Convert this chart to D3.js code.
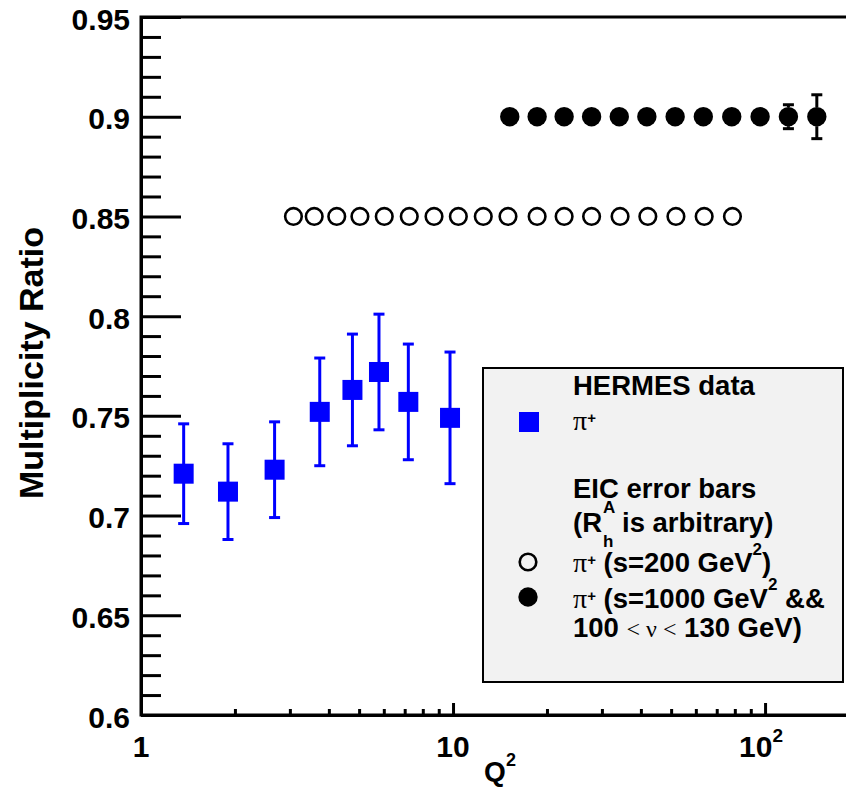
<!DOCTYPE html>
<html>
<head>
<meta charset="utf-8">
<script src="https://cdn.jsdelivr.net/npm/d3@7"></script>
<style>
  body { margin: 0; background: #fff; }
  svg text { font-family: "Liberation Sans", Arial, Helvetica, sans-serif; font-weight: bold; }
  svg .serif { font-family: "Liberation Serif", "DejaVu Serif", serif; font-weight: normal; }
</style>
</head>
<body>
<div id="chart"></div>
<script>
// HERMES pi+ multiplicity ratio vs Q^2
const hermesQ2  = [1.37, 1.90, 2.68, 3.74, 4.76, 5.79, 7.19, 9.78]
const hermesR   = [0.721, 0.712, 0.723, 0.752, 0.763, 0.772, 0.757, 0.749]
const hermesErr = [0.025, 0.024, 0.024, 0.027, 0.028, 0.029, 0.029, 0.033]

// EIC projection, s = 200 GeV^2 (open circles)
const eic200Q2  = [3.08, 3.59, 4.24, 5.03, 6.02, 7.24, 8.69, 10.4, 12.5, 15.0, 18.6, 22.7, 27.8, 34.3, 42.1, 51.8, 63.8, 78.6]
const eic200R   = [0.85, 0.85, 0.85, 0.85, 0.85, 0.85, 0.85, 0.85, 0.85, 0.85, 0.85, 0.85, 0.85, 0.85, 0.85, 0.85, 0.85, 0.85]
const eic200Err = [0.002, 0.002, 0.002, 0.002, 0.002, 0.002, 0.002, 0.002, 0.002, 0.002, 0.002, 0.002, 0.002, 0.002, 0.003, 0.003, 0.003, 0.003]

// EIC projection, s = 1000 GeV^2 && 100 < nu < 130 GeV (filled circles)
const eic1000Q2  = [15.2, 18.6, 22.7, 27.8, 34.1, 41.8, 51.5, 63.4, 78.2, 96.4, 118.8, 146.5]
const eic1000R   = [0.9, 0.9, 0.9, 0.9, 0.9, 0.9, 0.9, 0.9, 0.9, 0.9, 0.9, 0.9]
const eic1000Err = [0.002, 0.002, 0.002, 0.002, 0.002, 0.002, 0.002, 0.003, 0.003, 0.004, 0.006, 0.011]

// axis ticks
const yMajor = [0.6, 0.65, 0.7, 0.75, 0.8, 0.85, 0.9, 0.95]
const yTickLabels = ["0.6", "0.65", "0.7", "0.75", "0.8", "0.85", "0.9", "0.95"]
const xMajor = [1, 10, 100]
const xTickLabels = [["1", ""], ["10", ""], ["10", "2"]]

const width = 846
const height = 787

var svg = d3.select("#chart")
  .append("svg")
    .attr("width", width)
    .attr("height", height)

svg.append("rect").attr("width", width).attr("height", height).attr("fill", "#fff")

// scales (frame runs off the right edge, like the original canvas)
var x = d3.scaleLog().domain([1, 200]).range([141, 859])
var y = d3.scaleLinear().domain([0.6, 0.95]).range([715, 17])

// frame
svg.append("rect")
  .attr("x", x(1)).attr("y", y(0.95))
  .attr("width", x(200) - x(1)).attr("height", y(0.6) - y(0.95))
  .attr("fill", "none").attr("stroke", "#000").attr("stroke-width", 3)

// Y axis, ticks pointing inside
var yMinor = y.ticks(35).filter(function (d) { return yMajor.every(function (m) { return Math.abs(m - d) > 1e-6 }) })

svg.append("g")
  .attr("transform", "translate(" + x(1) + ",0)")
  .call(d3.axisLeft(y).tickValues(yMinor).tickSize(-20).tickSizeOuter(0).tickFormat(""))

var yAx = svg.append("g")
  .attr("transform", "translate(" + x(1) + ",0)")
  .call(d3.axisLeft(y).tickValues(yMajor).tickSize(-40).tickPadding(11).tickSizeOuter(0)
    .tickFormat(function (d, i) { return yTickLabels[i] }))

yAx.selectAll(".tick text")
  .attr("dy", null).attr("y", 12).attr("fill", "#000")
  .style("font-size", "30px")

// X axis
var xMinor = x.ticks().filter(function (d) { return xMajor.indexOf(d) < 0 })

svg.append("g")
  .attr("transform", "translate(0," + y(0.6) + ")")
  .call(d3.axisBottom(x).tickValues(xMinor).tickSize(-6).tickSizeOuter(0).tickFormat(""))

svg.append("g")
  .attr("transform", "translate(0," + y(0.6) + ")")
  .call(d3.axisBottom(x).tickValues(xMajor).tickSize(-12).tickSizeOuter(0).tickFormat(""))

svg.selectAll(".domain, .tick line").attr("stroke", "#000").attr("stroke-width", 3)

// x tick labels (10^2 with superscript)
xMajor.forEach(function (d, i) {
  var t = svg.append("text")
    .attr("x", x(d) - (xTickLabels[i][1] ? 4 : 0))
    .attr("y", 757)
    .attr("text-anchor", "middle")
    .style("font-size", "30px")
  t.append("tspan").text(xTickLabels[i][0])
  if (xTickLabels[i][1]) {
    t.append("tspan").attr("dy", -15).style("font-size", "19px").text(xTickLabels[i][1])
  }
})

// axis titles
var xt = svg.append("text")
  .attr("x", 500).attr("y", 781)
  .attr("text-anchor", "middle")
  .style("font-size", "28px")
xt.append("tspan").text("Q")
xt.append("tspan").attr("dy", -15).style("font-size", "18px").text("2")

svg.append("text")
  .attr("transform", "translate(43,363) rotate(-90)")
  .attr("text-anchor", "middle")
  .style("font-size", "34px")
  .text("Multiplicity Ratio")

// error bars drawn only outside the marker
function errorBars(g, qs, vs, es, r, color, capW) {
  qs.forEach(function (q, i) {
    var cx = x(q), cy = y(vs[i])
    var top = y(vs[i] + es[i]), bot = y(vs[i] - es[i])
    if (cy - top <= r) return
    g.append("line").attr("x1", cx).attr("x2", cx).attr("y1", top).attr("y2", cy - r)
    g.append("line").attr("x1", cx).attr("x2", cx).attr("y1", cy + r).attr("y2", bot)
    g.append("line").attr("x1", cx - capW / 2).attr("x2", cx + capW / 2).attr("y1", top).attr("y2", top)
    g.append("line").attr("x1", cx - capW / 2).attr("x2", cx + capW / 2).attr("y1", bot).attr("y2", bot)
  })
  g.attr("stroke", color).attr("stroke-width", 3)
}

// HERMES data
errorBars(svg.append("g"), hermesQ2, hermesR, hermesErr, 0, "#0000ff", 11)
svg.append("g").selectAll("rect")
  .data(hermesQ2)
  .enter().append("rect")
  .attr("x", function (d) { return x(d) - 10 })
  .attr("y", function (d, i) { return y(hermesR[i]) - 10 })
  .attr("width", 20).attr("height", 20)
  .attr("fill", "#0000ff")

// EIC s=200
errorBars(svg.append("g"), eic200Q2, eic200R, eic200Err, 9.5, "#000", 11)
svg.append("g").selectAll("circle")
  .data(eic200Q2)
  .enter().append("circle")
  .attr("cx", function (d) { return x(d) })
  .attr("cy", function (d, i) { return y(eic200R[i]) })
  .attr("r", 8.3)
  .attr("fill", "none").attr("stroke", "#000").attr("stroke-width", 2.6)

// EIC s=1000
errorBars(svg.append("g"), eic1000Q2, eic1000R, eic1000Err, 9.5, "#000", 11)
svg.append("g").selectAll("circle")
  .data(eic1000Q2)
  .enter().append("circle")
  .attr("cx", function (d) { return x(d) })
  .attr("cy", function (d, i) { return y(eic1000R[i]) })
  .attr("r", 9.7)
  .attr("fill", "#000")

// legend
var fs = "27.5px"
var leg = svg.append("g")
leg.append("rect")
  .attr("x", 483).attr("y", 368).attr("width", 360).attr("height", 314)
  .attr("fill", "#f2f2f2").attr("stroke", "#000").attr("stroke-width", 2)

leg.append("text").attr("x", 573).attr("y", 395).style("font-size", fs).text("HERMES data")
leg.append("rect").attr("x", 519).attr("y", 412).attr("width", 20).attr("height", 20).attr("fill", "#0000ff")

function piPlus(t) {
  t.append("tspan").attr("class", "serif").style("font-size", "28px").text("\u03c0")
  t.append("tspan").attr("dy", -7).style("font-size", "15px").text("+")
  t.append("tspan").attr("dy", 7).text(" ")
}

var l1 = leg.append("text").attr("x", 573).attr("y", 430).style("font-size", fs)
piPlus(l1)

leg.append("text").attr("x", 573).attr("y", 498).style("font-size", fs).text("EIC error bars")
leg.append("text").attr("x", 573).attr("y", 532).style("font-size", fs).text("(R")
leg.append("text").attr("x", 603).attr("y", 513).style("font-size", "17px").text("A")
leg.append("text").attr("x", 603).attr("y", 547).style("font-size", "17px").text("h")
leg.append("text").attr("x", 622).attr("y", 532).style("font-size", fs).text(" is arbitrary)")

leg.append("circle").attr("cx", 528).attr("cy", 562).attr("r", 8.3)
  .attr("fill", "none").attr("stroke", "#000").attr("stroke-width", 2.6)
var l2 = leg.append("text").attr("x", 573).attr("y", 572).style("font-size", fs)
piPlus(l2)
l2.append("tspan").text("(s=200 GeV")
l2.append("tspan").attr("dy", -17).style("font-size", "17px").text("2")
l2.append("tspan").attr("dy", 17).text(")")

leg.append("circle").attr("cx", 528).attr("cy", 597).attr("r", 9.7).attr("fill", "#000")
var l3 = leg.append("text").attr("x", 573).attr("y", 608).style("font-size", fs)
piPlus(l3)
l3.append("tspan").text("(s=1000 GeV")
l3.append("tspan").attr("dy", -18).style("font-size", "17px").text("2")
l3.append("tspan").attr("dy", 18).text(" &&")

var l4 = leg.append("text").attr("x", 573).attr("y", 637).style("font-size", fs)
l4.append("tspan").text("100 ")
l4.append("tspan").attr("class", "serif").style("font-size", "24px").text("< \u03bd <")
l4.append("tspan").text(" 130 GeV)")
</script>
</body>
</html>
